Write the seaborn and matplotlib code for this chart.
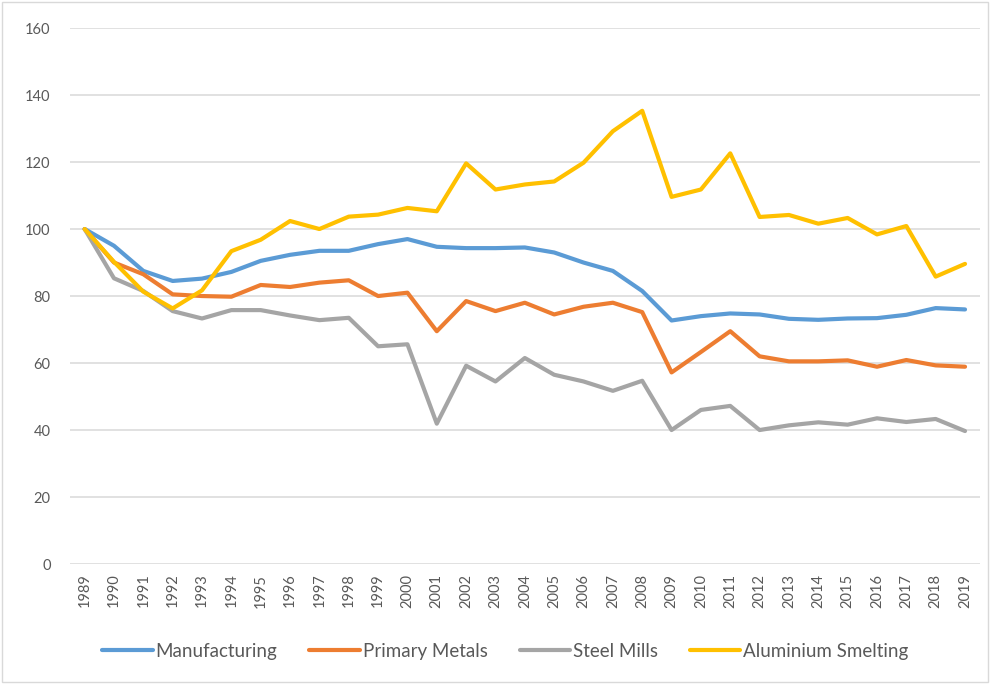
import pandas as pd
import seaborn as sns
from matplotlib import pyplot as plt
from matplotlib.patches import Rectangle

years = list(range(1989, 2020))

manufacturing = [100, 95, 87.5, 84.5, 85.2, 87.2, 90.5, 92.3, 93.5, 93.5, 95.5, 97,
                 94.7, 94.3, 94.3, 94.5, 93, 90, 87.5, 81.5, 72.7, 74, 74.8, 74.5,
                 73.2, 72.9, 73.3, 73.4, 74.4, 76.4, 76]
primary_metals = [100, 90, 86.5, 80.5, 80, 79.8, 83.3, 82.7, 84, 84.7, 80, 81,
                  69.5, 78.5, 75.5, 78, 74.5, 76.8, 78, 75.2, 57.2, 63.3, 69.5, 62,
                  60.5, 60.5, 60.8, 58.9, 60.9, 59.3, 58.9]
steel_mills = [100, 85.3, 81.5, 75.5, 73.3, 75.8, 75.8, 74.2, 72.8, 73.5, 65, 65.6,
               41.9, 59.2, 54.5, 61.5, 56.5, 54.5, 51.7, 54.7, 40, 46, 47.2, 40,
               41.4, 42.3, 41.6, 43.5, 42.4, 43.3, 39.7]
aluminium = [100, 90.2, 81.3, 76.3, 81.7, 93.4, 96.8, 102.4, 100, 103.7, 104.3, 106.3,
             105.3, 119.6, 111.8, 113.3, 114.2, 119.8, 129.2, 135.3, 109.6, 111.8, 122.6, 103.6,
             104.2, 101.6, 103.3, 98.4, 100.9, 85.8, 89.6]

series_names = ['Manufacturing', 'Primary Metals', 'Steel Mills', 'Aluminium Smelting']
colors = ['#5B9BD5', '#ED7D31', '#A5A5A5', '#FFC000']

df = pd.DataFrame({'year': years, 'Manufacturing': manufacturing, 'Primary Metals': primary_metals,
                   'Steel Mills': steel_mills, 'Aluminium Smelting': aluminium})
long_df = df.melt(id_vars='year', var_name='series', value_name='index')
long_df['pos'] = long_df['year'] - years[0]

sns.set_style('white')
plt.rcParams['font.family'] = ['Lato', 'DejaVu Sans']

fig = plt.figure(figsize=(9.91, 6.84), dpi=100)
ax = fig.add_axes([0.0706, 0.1754, 0.918, 0.7836])

sns.lineplot(data=long_df, x='pos', y='index', hue='series', hue_order=series_names,
             palette=colors, linewidth=3, ax=ax, legend=True)

ax.set_xlim(-0.5, len(years) - 0.5)
ax.set_ylim(0, 160)
ax.set_yticks(range(0, 161, 20))
ax.set_xticks(range(len(years)))
ax.set_xticklabels([str(y) for y in years], rotation=90)
ax.tick_params(axis='both', length=0, labelsize=10.5, colors='#595959')
ax.tick_params(axis='x', pad=7)
ax.tick_params(axis='y', pad=14)
ax.grid(axis='y', color='#D9D9D9', linewidth=1.1)
ax.set_axisbelow(True)
for s in ax.spines.values():
    s.set_visible(False)
ax.set_xlabel('')
ax.set_ylabel('')

handles, labels = ax.get_legend_handles_labels()
ax.legend_.remove()
fig.legend(handles, labels, loc='center', bbox_to_anchor=(0.51, 0.048), ncol=4, frameon=False,
           fontsize=13.5, handlelength=2.7, columnspacing=1.7, handletextpad=0.15, labelcolor='#595959')

fig.patches.append(Rectangle((0.002, 0.003), 0.995, 0.994, transform=fig.transFigure,
                             fill=False, edgecolor='#D9D9D9', linewidth=1))

fig.savefig('out.png', dpi=100)
